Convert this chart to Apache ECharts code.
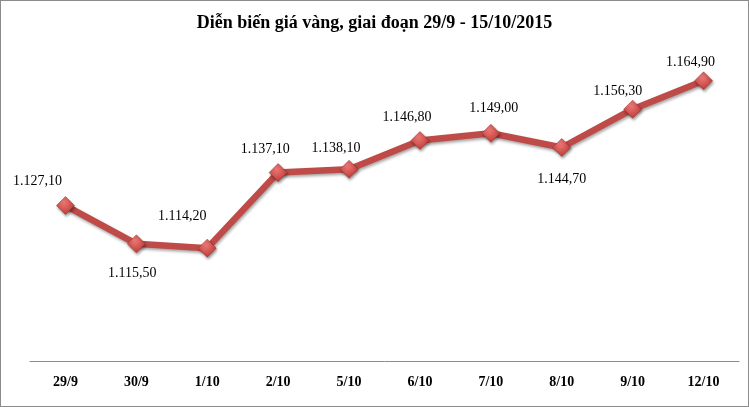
<!DOCTYPE html>
<html>
<head>
<meta charset="utf-8">
<script src="https://cdn.jsdelivr.net/npm/echarts@6/dist/echarts.min.js"></script>
<style>
  html, body { margin: 0; padding: 0; background: #fff; }
  #chart { width: 747px; height: 405px; border: 1px solid #8c8c8c; }
</style>
</head>
<body>
<div id="chart"></div>
<script>
// data
const days = ['29/9', '30/9', '1/10', '2/10', '5/10', '6/10', '7/10', '8/10', '9/10', '12/10'];
const goldPrice = [1127.1, 1115.5, 1114.2, 1137.1, 1138.1, 1146.8, 1149.0, 1144.7, 1156.3, 1164.9];

// where each value label sits relative to its marker
const labelOffsets = [[-28, -24], [-4, 29], [-25, -32], [-13, -23], [-13, -21],
  [-13, -23], [3, -25], [0, 32], [-15, -18], [-13, -19]];

// 1127.1 -> "1.127,10"
function viFormat(v) {
  const parts = v.toFixed(2).split('.');
  return parts[0].replace(/\B(?=(\d{3})+(?!\d))/g, '.') + ',' + parts[1];
}

const chart = echarts.init(document.getElementById('chart'));

chart.setOption({
  animation: false,
  title: {
    text: 'Diễn biến giá vàng, giai đoạn 29/9 - 15/10/2015',
    left: 'center',
    top: 8,
    textStyle: {
      fontFamily: 'Liberation Serif',
      fontWeight: 'bold',
      fontSize: 18,
      color: '#000'
    }
  },
  grid: { left: 29, right: 9, top: 30, bottom: 45 },
  xAxis: {
    type: 'category',
    data: days,
    axisTick: { show: false },
    axisLine: { lineStyle: { color: '#8c8c8c', width: 1 } },
    axisLabel: {
      margin: 14,
      fontFamily: 'Liberation Serif',
      fontWeight: 'bold',
      fontSize: 14,
      color: '#000'
    }
  },
  yAxis: {
    type: 'value',
    min: 1080,
    max: 1180,
    show: false
  },
  series: [{
    type: 'line',
    data: goldPrice.map((v, i) => ({
      value: v,
      label: { offset: labelOffsets[i] }
    })),
    lineStyle: {
      color: '#be4b48',
      width: 6.5,
      shadowColor: 'rgba(0,0,0,0.35)',
      shadowBlur: 3,
      shadowOffsetX: 1,
      shadowOffsetY: 2
    },
    symbol: 'diamond',
    symbolSize: 18,
    itemStyle: {
      color: new echarts.graphic.RadialGradient(0.4, 0.3, 0.8, [
        { offset: 0, color: '#f07b77' },
        { offset: 1, color: '#b8322e' }
      ]),
      borderColor: '#9b2d2a',
      borderWidth: 0.5,
      shadowColor: 'rgba(0,0,0,0.4)',
      shadowBlur: 3,
      shadowOffsetX: 1,
      shadowOffsetY: 2
    },
    label: {
      show: true,
      position: 'inside',
      formatter: (p) => viFormat(p.value),
      fontFamily: 'Liberation Serif',
      fontSize: 14,
      color: '#000'
    }
  }]
});
</script>
</body>
</html>
